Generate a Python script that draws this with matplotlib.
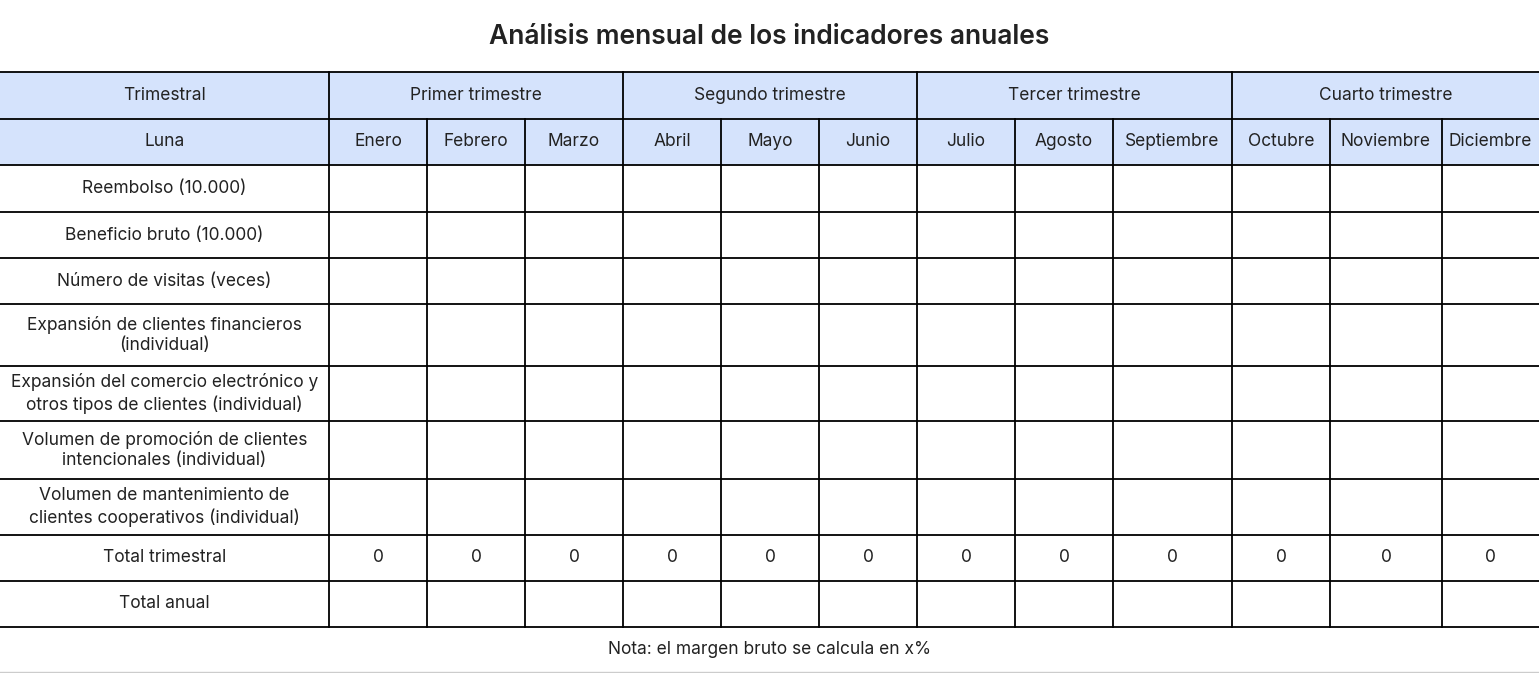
import matplotlib
matplotlib.use("Agg")
import matplotlib.pyplot as plt
from matplotlib.patches import Rectangle

title = "Análisis mensual de los indicadores anuales"
quarters = ["Primer trimestre", "Segundo trimestre", "Tercer trimestre", "Cuarto trimestre"]
months = ["Enero", "Febrero", "Marzo", "Abril", "Mayo", "Junio", "Julio", "Agosto",
          "Septiembre", "Octubre", "Noviembre", "Diciembre"]
row_labels = ["Reembolso (10.000)", "Beneficio bruto (10.000)", "Número de visitas (veces)",
              "Expansión de clientes financieros\n(individual)",
              "Expansión del comercio electrónico y\notros tipos de clientes (individual)",
              "Volumen de promoción de clientes\nintencionales (individual)",
              "Volumen de mantenimiento de\nclientes cooperativos (individual)",
              "Total trimestral", "Total anual"]
quarter_totals = [0] * 12
note = "Nota: el margen bruto se calcula en x%"

# layout (pixels)
xb = [0, 329, 427, 525, 623, 721, 819, 917, 1015, 1113, 1232, 1330, 1442, 1539]
yb = [72, 119, 165, 212, 258, 304, 366, 421, 479, 535, 581, 627, 672]
W, H = 1539, 673
fs = 12.5
blue = "#d5e3fc"
dark = "#222222"

fig = plt.figure(figsize=(W / 100, H / 100), dpi=100)
ax = fig.add_axes([0, 0, 1, 1])
ax.set_xlim(0, W); ax.set_ylim(H, 0); ax.axis("off")
plt.rcParams['font.family'] = ['Inter', 'DejaVu Sans']

ax.text(W / 2, 37, title, ha="center", va="center", fontsize=19, fontweight="semibold", color=dark)

# header fills
ax.add_patch(Rectangle((0, yb[0]), W, yb[2] - yb[0], color=blue, lw=0))

def cell_text(x0, x1, y0, y1, s):
    ax.text((x0 + x1) / 2, (y0 + y1) / 2, s, ha="center", va="center", fontsize=fs,
            color=dark, linespacing=1.3)

cell_text(xb[0], xb[1], yb[0], yb[1], "Trimestral")
for q, name in enumerate(quarters):
    cell_text(xb[1 + 3 * q], xb[4 + 3 * q], yb[0], yb[1], name)
cell_text(xb[0], xb[1], yb[1], yb[2], "Luna")
for i, m in enumerate(months):
    cell_text(xb[1 + i], xb[2 + i], yb[1], yb[2], m)
for r, lab in enumerate(row_labels):
    cell_text(xb[0], xb[1], yb[2 + r], yb[3 + r], lab)
rt = 2 + row_labels.index("Total trimestral")
for i, v in enumerate(quarter_totals):
    cell_text(xb[1 + i], xb[2 + i], yb[rt], yb[rt + 1], str(v))
cell_text(0, W, yb[-2], yb[-1], note)

lw = 1.3
# horizontal lines
for y in yb[:-1]:
    ax.plot([0, W], [y, y], color="black", lw=lw, solid_capstyle="butt")
ax.plot([0, W], [yb[-1], yb[-1]], color="#cccccc", lw=1)
# vertical lines
for j, x in enumerate(xb[1:-1], start=1):
    if (j - 1) % 3 == 0:
        ax.plot([x, x], [yb[0], yb[-2]], color="black", lw=lw)
    else:
        ax.plot([x, x], [yb[1], yb[-2]], color="black", lw=lw)

fig.savefig("out.png", dpi=100)
